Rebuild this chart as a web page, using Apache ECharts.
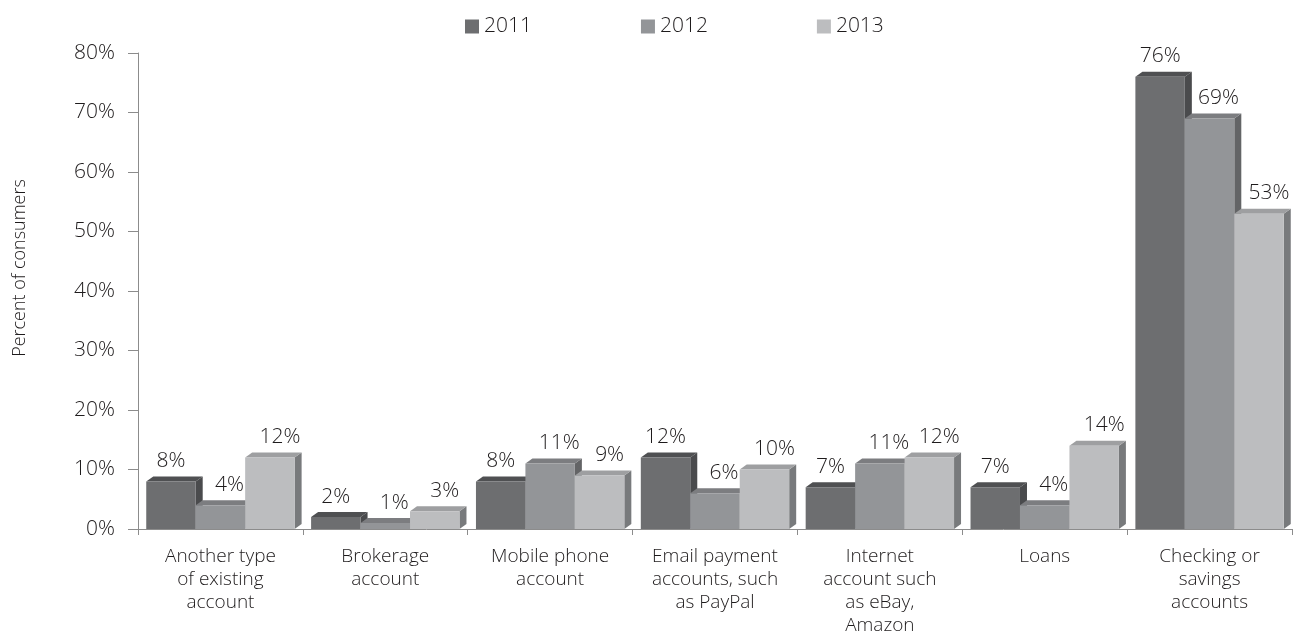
<!DOCTYPE html>
<html>
<head>
<meta charset="utf-8">
<script src="https://cdn.jsdelivr.net/npm/echarts@6/dist/echarts.min.js"></script>
<style>
  html, body { margin: 0; padding: 0; background: #ffffff; }
  #chart { width: 1312px; height: 644px; }
</style>
</head>
<body>
<div id="chart"></div>
<script>
// Account types consumers reported using
const categories = [
  'Another type\nof existing\naccount',
  'Brokerage\naccount',
  'Mobile phone\naccount',
  'Email payment\naccounts, such\nas PayPal',
  'Internet\naccount such\nas eBay,\nAmazon',
  'Loans',
  'Checking or\nsavings\naccounts'
];
const years = ['2011', '2012', '2013'];
// Percent of consumers per year
const values2011 = [8, 2, 8, 12, 7, 7, 76];
const values2012 = [4, 1, 11, 6, 11, 4, 69];
const values2013 = [12, 3, 9, 10, 12, 14, 53];
const yTicks = [0, 10, 20, 30, 40, 50, 60, 70, 80];

const seriesValues = [values2011, values2012, values2013];
// front, top, side shades for each year
const shades = [
  { front: '#6d6e70', top: '#4f5052', side: '#4a4b4d' },
  { front: '#939598', top: '#7c7d80', side: '#636466' },
  { front: '#bcbdbf', top: '#9e9fa1', side: '#787a7c' }
];
const labelShift = [0, 9, 10];
const DX = 7, DY = 5;
const FONT = '"Open Sans", "Liberation Sans", sans-serif';
const WEIGHT = 300;
const TEXT = '#1e1b1c';

function renderBar(params, api) {
  const s = params.seriesIndex;
  const cat = api.value(0);
  const v = api.value(1);
  const base = api.coord([cat, 0]);
  const top = api.coord([cat, v]);
  const cw = api.size([1, 0])[0];
  const bw = cw * 0.3;
  const x0 = base[0] - bw * 1.5 + s * bw;
  const x1 = x0 + bw;
  const yb = base[1];
  const yt = top[1];
  const c = shades[s];
  return {
    type: 'group',
    children: [
      {
        type: 'polygon',
        shape: { points: [[x1, yt], [x1 + DX, yt - DY], [x1 + DX, yb - DY], [x1, yb]] },
        style: { fill: c.side }
      },
      {
        type: 'polygon',
        shape: { points: [[x0, yt], [x0 + DX, yt - DY], [x1 + DX, yt - DY], [x1, yt]] },
        style: { fill: c.top }
      },
      {
        type: 'rect',
        shape: { x: x0, y: yt, width: bw, height: yb - yt },
        style: { fill: c.front }
      },
      {
        type: 'text',
        style: {
          text: v + '%',
          x: (x0 + x1) / 2 + labelShift[s],
          y: yt - DY - 5,
          align: 'center',
          verticalAlign: 'bottom',
          fill: TEXT,
          font: WEIGHT + ' 21px ' + FONT
        }
      }
    ]
  };
}

const chart = echarts.init(document.getElementById('chart'), null, { renderer: 'canvas' });

chart.setOption({
  animation: false,
  backgroundColor: '#ffffff',
  grid: { left: 138, right: 20, top: 53, bottom: 115, containLabel: false },
  legend: {
    data: years,
    left: 465,
    top: 16,
    padding: 0,
    itemWidth: 14,
    itemHeight: 14,
    itemGap: 109,
    icon: 'rect',
    textStyle: { fontFamily: FONT, fontWeight: WEIGHT, fontSize: 21, color: TEXT }
  },
  xAxis: {
    type: 'category',
    data: categories,
    axisLine: { lineStyle: { color: '#8c8c8c', width: 1 } },
    axisTick: { show: true, length: 6, lineStyle: { color: '#8c8c8c' } },
    axisLabel: {
      interval: 0,
      margin: 16,
      fontFamily: FONT,
      fontWeight: WEIGHT,
      fontSize: 19,
      lineHeight: 23,
      color: TEXT
    }
  },
  yAxis: {
    type: 'value',
    min: 0,
    max: 80,
    interval: 10,
    splitLine: { show: false },
    axisLine: { show: true, lineStyle: { color: '#8c8c8c', width: 1 } },
    axisTick: { show: true, length: 10, lineStyle: { color: '#8c8c8c' } },
    axisLabel: {
      margin: 23,
      formatter: function (val) { return yTicks.indexOf(val) >= 0 ? val + '%' : ''; },
      fontFamily: FONT,
      fontWeight: WEIGHT,
      fontSize: 21,
      color: TEXT
    }
  },
  graphic: [
    {
      type: 'text',
      x: 20,
      y: 268,
      rotation: Math.PI / 2,
      style: {
        text: 'Percent of consumers',
        align: 'center',
        verticalAlign: 'middle',
        fill: TEXT,
        font: WEIGHT + ' 18px ' + FONT
      }
    }
  ],
  series: years.map(function (y, i) {
    return {
      name: y,
      type: 'custom',
      renderItem: renderBar,
      itemStyle: { color: shades[i].front },
      encode: { x: 0, y: 1 },
      data: seriesValues[i].map(function (v, k) { return [k, v]; }),
      z: 2 + i
    };
  })
});
</script>
</body>
</html>
